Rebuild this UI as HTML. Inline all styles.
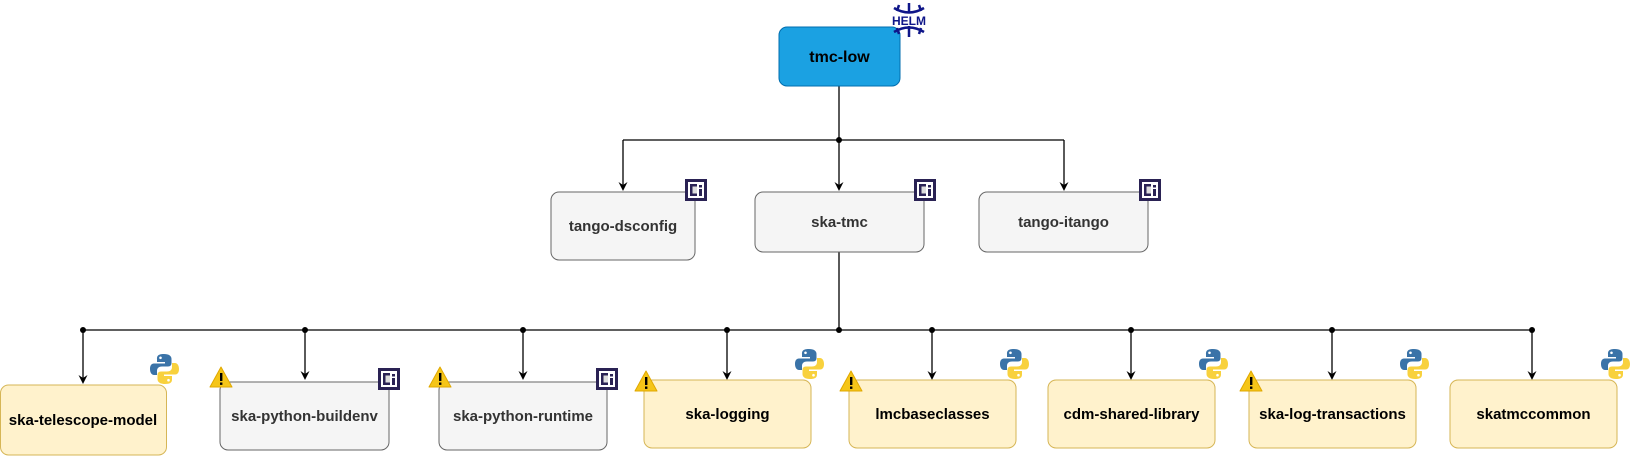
<!DOCTYPE html>
<html><head><meta charset="utf-8"><style>
html,body{margin:0;padding:0;background:#fff;}
svg{display:block;font-family:"Liberation Sans",Arial,sans-serif;font-weight:bold;}
</style></head><body>
<svg width="1641" height="456" viewBox="0 0 1641 456" xmlns="http://www.w3.org/2000/svg">
<defs>
<path id="ah" d="M-4.5,-9 L0,0 L4.5,-9 L0,-6 Z" fill="#000"/>
<g id="ci"><rect x="0" y="0" width="22" height="22" fill="#2a2254"/><rect x="3" y="3" width="16" height="16" fill="#fff"/><rect x="5" y="5" width="7" height="12" fill="#2a2254"/><rect x="7.5" y="7.5" width="4.5" height="7" fill="#ddd"/><rect x="14" y="6" width="3" height="2.5" fill="#2a2254"/><rect x="14" y="10" width="3" height="7" fill="#2a2254"/></g>
<g id="warn"><path d="M11,1 L22,21 L0,21 Z" fill="#f5c518" stroke="#e0a800" stroke-width="1" stroke-linejoin="round"/><rect x="10" y="7" width="2.4" height="8" fill="#000"/><rect x="10" y="16.5" width="2.4" height="2.4" fill="#000"/></g>
<g id="py"><path d="M13,0 C6,0 6,3 6,5 L6,8 L14,8 L14,9.5 L3,9.5 C0,9.5 -1,12 -1,15 C-1,19 1,21 3,21 L6,21 L6,17 C6,14 8,12.5 11,12.5 L17,12.5 C19.5,12.5 20.5,11 20.5,9 L20.5,5 C20.5,2 18,0 13,0 Z" fill="#3a73a8"/><circle cx="9.5" cy="3.8" r="1.3" fill="#fff"/><path d="M14,30 C21,30 21,27 21,25 L21,22 L13,22 L13,20.5 L24,20.5 C27,20.5 28,18 28,15 C28,11 26,9 24,9 L21,9 L21,13 C21,16 19,17.5 16,17.5 L10,17.5 C7.5,17.5 6.5,19 6.5,21 L6.5,25 C6.5,28 9,30 14,30 Z" fill="#f8d13d"/><circle cx="17.5" cy="26.2" r="1.3" fill="#fff"/></g>
</defs>

<!-- connectors -->
<g stroke="#000" stroke-width="1.3" fill="none">
<line x1="839" y1="86" x2="839" y2="140"/>
<line x1="623" y1="140" x2="1064" y2="140"/>
<line x1="623" y1="140" x2="623" y2="188"/>
<line x1="839" y1="140" x2="839" y2="188"/>
<line x1="1064" y1="140" x2="1064" y2="188"/>
<line x1="839" y1="252" x2="839" y2="330"/>
<line x1="83" y1="330" x2="1532" y2="330"/>
<line x1="83" y1="330" x2="83" y2="381"/>
<line x1="305" y1="330" x2="305" y2="377"/>
<line x1="523" y1="330" x2="523" y2="377"/>
<line x1="727" y1="330" x2="727" y2="377"/>
<line x1="932" y1="330" x2="932" y2="377"/>
<line x1="1131" y1="330" x2="1131" y2="377"/>
<line x1="1332" y1="330" x2="1332" y2="377"/>
<line x1="1532" y1="330" x2="1532" y2="377"/>
</g>
<use href="#ah" x="623" y="191"/><use href="#ah" x="839" y="191"/><use href="#ah" x="1064" y="191"/>
<use href="#ah" x="83" y="384"/><use href="#ah" x="305" y="380"/><use href="#ah" x="523" y="380"/><use href="#ah" x="727" y="380"/><use href="#ah" x="932" y="380"/><use href="#ah" x="1131" y="380"/><use href="#ah" x="1332" y="380"/><use href="#ah" x="1532" y="380"/>
<g fill="#000">
<circle cx="839" cy="140" r="3"/>
<circle cx="83" cy="330" r="3"/><circle cx="305" cy="330" r="3"/><circle cx="523" cy="330" r="3"/><circle cx="727" cy="330" r="3"/><circle cx="839" cy="330" r="3"/><circle cx="932" cy="330" r="3"/><circle cx="1131" cy="330" r="3"/><circle cx="1332" cy="330" r="3"/><circle cx="1532" cy="330" r="3"/>
</g>

<!-- top -->
<rect x="779" y="27" width="121" height="59" rx="8" fill="#1ba1e2" stroke="#006eaf" stroke-width="1"/>
<text x="839.5" y="62" text-anchor="middle" font-size="16" fill="#000">tmc-low</text>
<g fill="none" stroke="#0f1689" stroke-width="2.5">
<path d="M894,8 Q909,17 924,8"/><line x1="909" y1="3" x2="909" y2="13"/><line x1="899" y1="5" x2="897" y2="11"/><line x1="919" y1="5" x2="921" y2="11"/>
<path d="M894,32 Q909,23 924,32"/><line x1="909" y1="26" x2="909" y2="37"/><line x1="899" y1="34" x2="897" y2="28"/><line x1="919" y1="34" x2="921" y2="28"/>
</g>
<text x="909" y="25" text-anchor="middle" font-size="12" fill="#0f1689" font-weight="900">HELM</text>

<!-- middle -->
<g fill="#f5f5f5" stroke="#666" stroke-width="1">
<rect x="551" y="192" width="144" height="68" rx="8"/>
<rect x="755" y="192" width="169" height="60" rx="8"/>
<rect x="979" y="192" width="169" height="60" rx="8"/>
</g>
<g font-size="15" fill="#333" text-anchor="middle">
<text x="623" y="231">tango-dsconfig</text>
<text x="839.5" y="227">ska-tmc</text>
<text x="1063.5" y="227">tango-itango</text>
</g>
<use href="#ci" x="685" y="179"/><use href="#ci" x="914" y="179"/><use href="#ci" x="1139" y="179"/>

<!-- bottom -->
<g fill="#fff2cc" stroke="#d6b656" stroke-width="1">
<rect x="0.5" y="385" width="166" height="70" rx="8"/>
<rect x="644" y="380" width="167" height="68" rx="8"/>
<rect x="849" y="380" width="167" height="68" rx="8"/>
<rect x="1048" y="380" width="167" height="68" rx="8"/>
<rect x="1249" y="380" width="167" height="68" rx="8"/>
<rect x="1450" y="380" width="167" height="68" rx="8"/>
</g>
<g fill="#f5f5f5" stroke="#666" stroke-width="1">
<rect x="220" y="382" width="169" height="68" rx="8"/>
<rect x="439" y="382" width="168" height="68" rx="8"/>
</g>
<g font-size="15" text-anchor="middle" fill="#000">
<text x="83" y="425">ska-telescope-model</text>
<text x="304.5" y="421" fill="#333">ska-python-buildenv</text>
<text x="523" y="421" fill="#333">ska-python-runtime</text>
<text x="727.5" y="419">ska-logging</text>
<text x="932.5" y="419">lmcbaseclasses</text>
<text x="1131.5" y="419">cdm-shared-library</text>
<text x="1332.5" y="419">ska-log-transactions</text>
<text x="1533.5" y="419">skatmccommon</text>
</g>
<use href="#ci" x="378" y="368"/><use href="#ci" x="596" y="368"/>
<use href="#warn" x="210" y="366"/><use href="#warn" x="429" y="366"/><use href="#warn" x="635" y="370"/><use href="#warn" x="840" y="370"/><use href="#warn" x="1240" y="370"/>
<use href="#py" x="151" y="354"/><use href="#py" x="796" y="349"/><use href="#py" x="1001" y="349"/><use href="#py" x="1200" y="349"/><use href="#py" x="1401" y="349"/><use href="#py" x="1602" y="349"/>
</svg>
</body></html>
